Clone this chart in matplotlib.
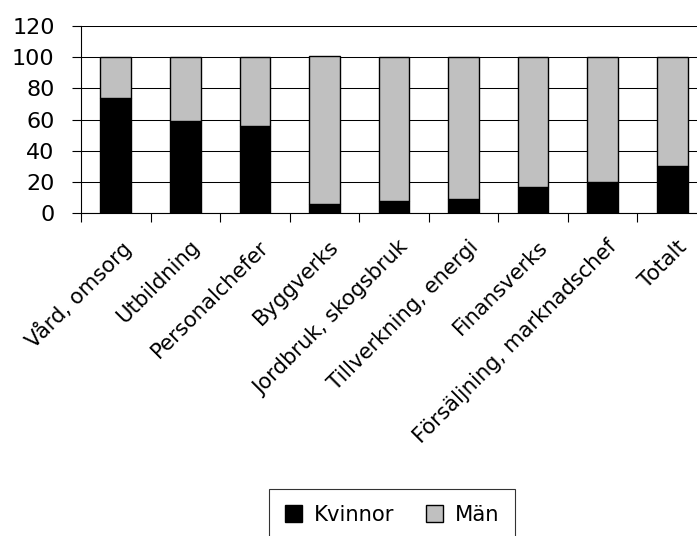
import matplotlib
matplotlib.use("Agg")
import matplotlib.pyplot as plt
from matplotlib.transforms import ScaledTranslation
import numpy as np

# Data
categories = ["Vård, omsorg", "Utbildning", "Personalchefer", "Byggverks",
              "Jordbruk, skogsbruk", "Tillverkning, energi", "Finansverks",
              "Försäljning, marknadschef", "Totalt"]
kvinnor = [74, 59, 56, 6, 8, 9, 17, 20, 30]
man = [26, 41, 44, 95, 92, 91, 83, 80, 70]
yticks = [0, 20, 40, 60, 80, 100, 120]

fig = plt.figure(figsize=(6.97, 5.36), dpi=100)
ax = fig.add_axes([81 / 697, 1 - 213 / 536, 626 / 697, 187 / 536])

x = np.arange(len(categories))
ax.bar(x, kvinnor, width=0.44, color="black", edgecolor="black", linewidth=1, label="Kvinnor", zorder=3)
ax.bar(x, man, width=0.44, bottom=kvinnor, color="#c0c0c0", edgecolor="black", linewidth=1, label="Män", zorder=3)

ax.set_xlim(-0.5, len(categories) - 0.5)
ax.set_ylim(0, 120)
ax.set_yticks(yticks)
ax.tick_params(axis="y", labelsize=16, length=6.5, width=0.8, pad=12.5, direction="out")
ax.yaxis.grid(True, color="black", linewidth=0.75, zorder=0)

# tick marks on category boundaries, labels on centers
ax.set_xticks(np.arange(len(categories) + 1) - 0.5)
ax.set_xticklabels([])
ax.set_xticks(x, minor=True)
ax.set_xticklabels(categories, minor=True, rotation=45, ha="right", va="top",
                   rotation_mode="anchor", fontsize=15.2)
ax.tick_params(axis="x", which="major", length=6.5, width=0.8, direction="out")
ax.tick_params(axis="x", which="minor", length=0, pad=17)
shift = ScaledTranslation(0.04, 0, fig.dpi_scale_trans)
for lbl in ax.get_xticklabels(minor=True):
    lbl.set_transform(lbl.get_transform() + shift)

for side in ["top", "right"]:
    ax.spines[side].set_visible(False)
for side in ["left", "bottom"]:
    ax.spines[side].set_linewidth(0.8)
ax.set_axisbelow(True)

leg = fig.legend(loc="upper center", bbox_to_anchor=(392 / 697, 1 - 489 / 536),
                 ncol=2, fontsize=15.2, frameon=True, fancybox=False,
                 handlelength=0.82, handleheight=0.82, handletextpad=0.55,
                 columnspacing=1.5, borderpad=0.75, borderaxespad=0)
leg.get_frame().set_edgecolor("black")
leg.get_frame().set_linewidth(0.8)

fig.savefig("out.png", dpi=100)
